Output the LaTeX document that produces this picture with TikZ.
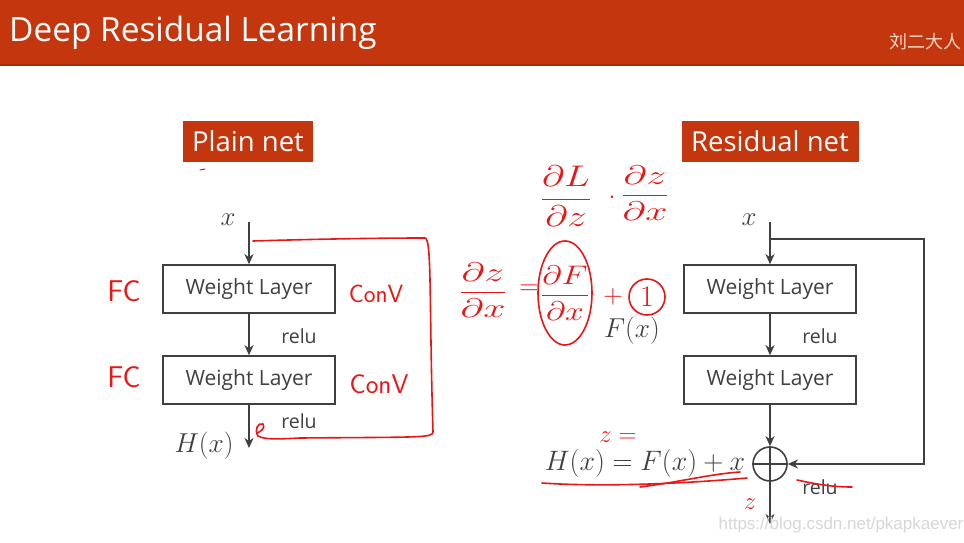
\documentclass[tikz,border=0pt]{standalone}
\usepackage{graphicx}
\usepackage{fontspec}
\setmainfont{Open Sans}
\newfontfamily\cjk{Noto Sans CJK SC}
\newfontfamily\wmfont{Liberation Sans}
\usetikzlibrary{arrows.meta}
\definecolor{hdr}{RGB}{196,54,14}
\definecolor{ln}{RGB}{64,64,64}
\definecolor{pen}{RGB}{232,22,22}
\definecolor{wm}{RGB}{215,215,215}
\definecolor{auth}{RGB}{250,215,195}
\newcommand{\mysc}[3]{\scalebox{#1}[#2]{$\displaystyle #3$}}
\begin{document}
\begin{tikzpicture}[x=1pt,y=-1pt,
  tag/.style={fill=hdr,text=white,minimum height=41pt,inner sep=0pt,font=\fontsize{27.5}{30}\selectfont},
  wl/.style={draw=ln,line width=1.6pt,minimum width=172pt,minimum height=48pt,inner sep=0pt,text=ln,font=\fontsize{21}{24}\selectfont},
  arr/.style={draw=ln,line width=1.6pt,-{Stealth[length=10pt,width=9pt,inset=3pt]}},
  rl/.style={text=ln,font=\fontsize{19.5}{22}\selectfont},
  mlbl/.style={text=ln,font=\fontsize{24.88}{30}\selectfont},
  pentext/.style={text=pen,font=\sffamily\fontsize{30}{32}\selectfont},
  penmath/.style={text=pen,inner sep=1pt,font=\fontsize{24.88}{30}\selectfont},
  penline/.style={draw=pen,line width=1.6pt,line cap=round,line join=round}]
\useasboundingbox (0,0) rectangle (964,543);
\fill[white] (0,0) rectangle (964,543);
% header
\fill[hdr] (0,0) rectangle (964,65);
\draw[hdr!85!black,line width=1.5pt] (0,65) -- (964,65);
\node[anchor=west,text=white,inner sep=0pt,font=\fontsize{33.4}{40}\selectfont] (title) at (9,33) {Deep Residual Learning};
\node[anchor=east,text=auth,inner sep=0pt,font=\cjk\fontsize{18}{20}\selectfont] (author) at (962,42) {刘二大人};
% tags
\node[tag,minimum width=130pt] (plain) at (248,141) {Plain net};
\node[tag,minimum width=177pt] (resid) at (770,141) {Residual net};
% plain net
\node[wl] (a1) at (249,289) {Weight Layer};
\node[wl] (a2) at (249,380) {Weight Layer};
\coordinate (ain) at (249,222);
\coordinate (aout) at (249,448);
\draw[arr] (ain) -- (a1);
\draw[arr] (a1) -- (a2);
\draw[arr] (a2) -- (aout);
\node[mlbl] (ax) at (228,220) {\mysc{1.08}{1.08}{x}};
\node[mlbl] (ah) at (204,446) {\mysc{1.1}{1.1}{H(x)}};
\node[rl] (ar1) at (299,336) {relu};
\node[rl] (ar2) at (299,421) {relu};
% residual net
\node[wl] (b1) at (770,289) {Weight Layer};
\node[wl] (b2) at (770,380) {Weight Layer};
\node[circle,draw=ln,line width=1.6pt,minimum size=34pt,inner sep=0pt] (sum) at (770,464) {};
\draw[ln,line width=1.6pt] (sum.north) -- (sum.south) (sum.west) -- (sum.east);
\coordinate (bin) at (770,222);
\coordinate (bsplit) at (770,239);
\coordinate (c1) at (924,239);
\coordinate (c2) at (924,464);
\coordinate (bout) at (770,524);
\draw[arr] (bin) -- (b1);
\draw[arr] (b1) -- (b2);
\draw[arr] (b2) -- (sum);
\draw[arr] (bsplit) -- (c1) -- (c2) -- (sum);
\draw[arr] (sum) -- (bout);
\node[mlbl] (bx) at (749,220) {\mysc{1.08}{1.08}{x}};
\node[rl] (br1) at (820,336) {relu};
\node[rl] (br2) at (820,487) {relu};
\node[mlbl] (eq) at (645,463) {\mysc{1.12}{1.13}{H(x)=F(x)+x}};
\node[mlbl] (fx) at (632,331) {\mysc{1.1}{1.1}{F(x)}};
% watermark
\node[text=wm,font=\wmfont\fontsize{17}{18}\selectfont] (wmark) at (841,525) {https://blog.csdn.net/pkapkaever};
% red annotations, left
\node[pentext] (fc1) at (124,291) {FC};
\node[pentext] (fc2) at (124,377) {FC};
\node[pentext,font=\sffamily\fontsize{25}{28}\selectfont] (cv1) at (376,294) {ConV};
\node[pentext,font=\sffamily\fontsize{27}{30}\selectfont] (cv2) at (379,384) {ConV};
\draw[penline] (253,241) .. controls (320,239) and (380,238) .. (425,238)
  .. controls (432,239) and (429,300) .. (433,432)
  .. controls (433,438) and (420,437) .. (300,438)
  .. controls (280,439) and (265,440) .. (258,436)
  .. controls (254,430) and (258,422) .. (263,424)
  .. controls (266,428) and (260,432) .. (257,433);
\draw[penline,line width=1pt] (200,170) -- (205,169);
% red annotations, right
\node[penmath] (m1) at (566,196) {\mysc{1.55}{1.2}{\frac{\partial L}{\partial z}}};
\node[penmath] (m2) at (612,198) {$\cdot$};
\node[penmath] (m3) at (645,193) {\mysc{1.6}{1.08}{\frac{\partial z}{\partial x}}};
\node[penmath] (m4) at (483,290) {\mysc{1.6}{1.08}{\frac{\partial z}{\partial x}}};
\node[penmath] (m5) at (529,290) {\mysc{1.08}{1.08}{=}};
\node[penmath] (m6) at (565,293) {\mysc{1.35}{1.08}{\frac{\partial F}{\partial x}}};
\node[penmath] (m7) at (613,297) {\mysc{1.08}{1.08}{+}};
\node[penmath] (m8) at (647,297) {\mysc{1.2}{1.2}{1}};
\draw[penline] (m6.center) ellipse [x radius=27pt, y radius=52pt];
\draw[penline] (m8.center) circle [radius=18pt];
\node[penmath] (zeq) at (618,437) {$z=$};
\node[penmath] (zout) at (750,504) {$z$};
\draw[penline] (542,483) .. controls (600,487) and (680,484) .. (747,478);
\draw[penline] (640,487) .. controls (680,482) and (710,474) .. (740,472);
\draw[penline] (797,480) .. controls (820,485) and (835,487) .. (852,487);
\end{tikzpicture}
\end{document}
